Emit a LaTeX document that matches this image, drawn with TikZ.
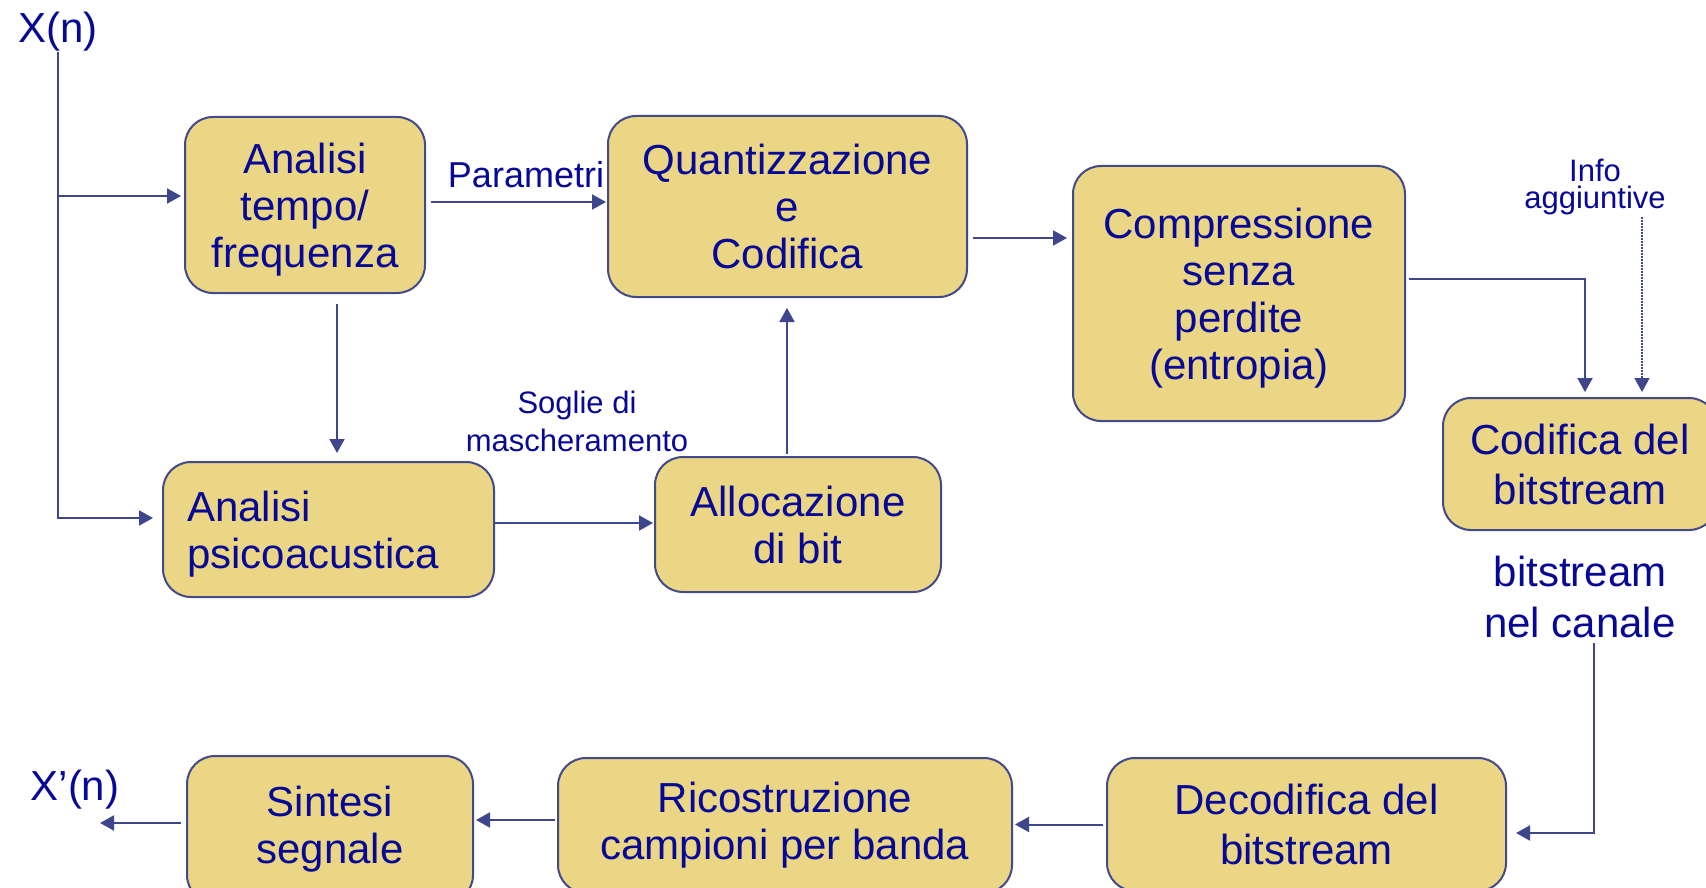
\documentclass[tikz,border=0pt]{standalone}
\usepackage{fontspec}
\setmainfont{Liberation Sans}
\usetikzlibrary{arrows.meta}

\definecolor{sabbia}{RGB}{234,214,132}
\definecolor{bordo}{RGB}{66,74,140}
\definecolor{testo}{RGB}{8,8,150}
\definecolor{linea}{RGB}{62,70,140}

\begin{document}
\begin{tikzpicture}[x=1pt,y=-1pt,
        blocco/.style={draw=bordo, fill=sabbia, line width=2pt, rounded corners=28pt,
            inner sep=0pt, align=center, text=testo, font=\fontsize{42}{47}\selectfont},
        etichetta/.style={inner sep=0pt, align=center, text=testo},
        freccia/.style={draw=linea, line width=2pt, -{Triangle[length=14pt,width=15pt]},
            shorten <=5pt}]

        % Area del disegno
        \path[use as bounding box, fill=white] (0,0) rectangle (1706,888);
        \clip (0,0) rectangle (1706,888);

        % ingresso
        \node[etichetta, anchor=base, font=\fontsize{42}{47}\selectfont] (xn) at (58,43) {X(n)};

        % codificatore
        \node[blocco, text depth=0pt, minimum width=240pt, minimum height=176pt] (tf) at (305,205) {Analisi\\tempo/\\frequenza};
        \node[blocco, minimum width=359pt, minimum height=181pt] (qc) at (787.5,206.5) {Quantizzazione\\e\\Codifica};
        \node[blocco, text depth=0pt, minimum width=332pt, minimum height=255pt] (cs) at (1239,293.5) {Compressione\\senza\\perdite\\(entropia)};
        \node[blocco, minimum width=274pt, minimum height=132pt, font=\fontsize{42}{50}\selectfont] (cb) at (1580,464) {Codifica del\\bitstream};
        \node[blocco, text depth=47pt, align=left, text width=283pt, inner xsep=24pt, minimum height=135pt] (pa) at (328.5,529.5) {Analisi\\psicoacustica};
        \node[blocco, minimum width=286pt, minimum height=135pt] (ab) at (798,524.5) {Allocazione\\di bit};

        % etichette
        \node[etichetta, anchor=base, font=\fontsize{36}{40}\selectfont] (par) at (526,188) {Parametri};
        \node[etichetta, font=\fontsize{31}{38}\selectfont] (soglie) at (577,421) {Soglie di\\mascheramento};
        \node[etichetta, font=\fontsize{31}{27}\selectfont] (info) at (1595,187) {Info\\aggiuntive};
        \node[etichetta, font=\fontsize{42}{51}\selectfont] (canale) at (1580,597) {bitstream\\nel canale};

        % decodificatore
        \node[blocco, minimum width=399pt, minimum height=133pt, font=\fontsize{42}{50}\selectfont] (dd) at (1306.5,824.5) {Decodifica del\\bitstream};
        \node[blocco, minimum width=454pt, minimum height=135pt] (rc) at (785,825.5) {Ricostruzione\\campioni per banda};
        \node[blocco, minimum width=286pt, minimum height=147pt] (ss) at (330,829.5) {Sintesi\\segnale};

        % uscita
        \node[etichetta, anchor=base, font=\fontsize{42}{47}\selectfont] (xu) at (75,800) {X’(n)};
        \coordinate (uscita) at (100,823);

        % collegamenti codificatore
        \coordinate (ramo) at (xn.south |- tf.west);
        \draw[freccia, shorten <=0pt, shorten >=9pt] (xn.south) |- ([yshift=11.5pt]pa.west);
        \draw[freccia, shorten <=0pt, shorten >=3pt] ([yshift=9pt]ramo) -- ([yshift=9pt]tf.west);
        \draw[freccia, shorten >=1pt] ([yshift=3pt]tf.east) -- ([yshift=3pt]tf.east -| qc.west);
        \draw[freccia, shorten >=5pt] ([yshift=-31.5pt]qc.east) -- ([yshift=-31.5pt]qc.east -| cs.west);
        \draw[freccia, shorten <=3pt, shorten >=5pt] ([yshift=14.5pt]cs.east) -| ([xshift=5pt]cb.north);
        \draw[freccia, line width=1.5pt, dash pattern=on 1.5pt off 1.5pt, shorten <=2pt, shorten >=5pt] ([xshift=62pt]cb.north |- info.south) -- ([xshift=62pt]cb.north);
        \draw[freccia, shorten <=10pt, shorten >=8pt] ([xshift=32pt]tf.south) -- ([xshift=32pt]tf.south |- pa.north);
        \draw[freccia, shorten <=0pt, shorten >=1pt] ([yshift=6.5pt]pa.east) -- ([yshift=6.5pt]pa.east -| ab.west);
        \draw[freccia, shorten <=2pt, shorten >=10pt] ([xshift=-11pt]ab.north) -- ([xshift=-11pt]ab.north |- qc.south);

        % collegamenti decodificatore
        \draw[freccia, shorten >=9pt] ([xshift=14pt]canale.south) |- ([yshift=-8.5pt]dd.east);
        \draw[freccia, shorten <=3pt, shorten >=2pt] (dd.west) -- (dd.west -| rc.east);
        \draw[freccia, shorten <=2pt, shorten >=2pt] ([yshift=5.5pt]rc.west) -- ([yshift=5.5pt]rc.west -| ss.east);
        \draw[freccia] ([yshift=6.5pt]ss.west) -- (uscita);
    \end{tikzpicture}
\end{document}
